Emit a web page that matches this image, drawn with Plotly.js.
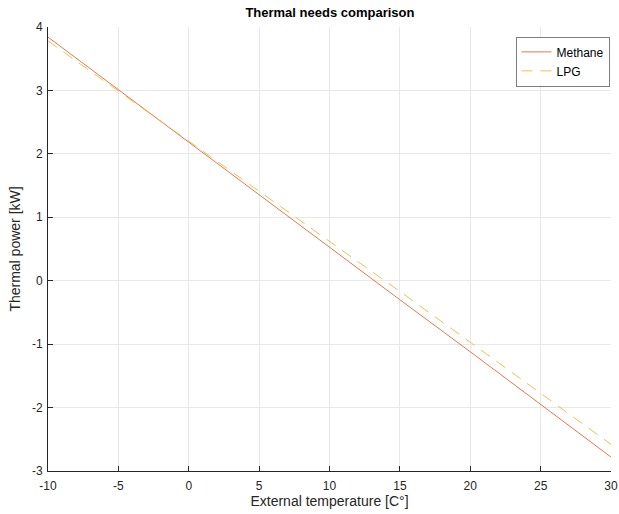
<!DOCTYPE html>
<html>
<head>
<meta charset="utf-8">
<script src="https://cdn.plot.ly/plotly-3.0.1.min.js"></script>
<style>html,body{margin:0;padding:0;background:#fff;}#chart{width:619px;height:514px;}</style>
</head>
<body>
<div id="chart"></div>
<script>
const temperature = [-10, -5, 0, 5, 10, 15, 20, 25, 30];
const methane = [3.84, 3.01, 2.19, 1.36, 0.53, -0.30, -1.12, -1.95, -2.78];
const lpg = [3.78, 2.99, 2.20, 1.41, 0.63, -0.17, -0.97, -1.77, -2.58];
const xTickVals = [-10, -5, 0, 5, 10, 15, 20, 25, 30];
const xTickText = ['-10', '-5', '0', '5', '10', '15', '20', '25', '30'];
const yTickVals = [-3, -2, -1, 0, 1, 2, 3, 4];
const yTickText = ['-3', '-2', '-1', '0', '1', '2', '3', '4'];

const font = 'Liberation Sans, Arial, Helvetica, sans-serif';
const traces = [
  {x: temperature, y: methane, name: 'Methane', mode: 'lines', type: 'scatter',
   line: {color: '#DE6A3A', width: 0.9}},
  {x: temperature, y: lpg, name: 'LPG', mode: 'lines', type: 'scatter',
   line: {color: '#EDB83A', width: 0.9, dash: '11px,8px'}}
];
const axisCommon = {
  showgrid: true, gridcolor: '#e8e8e8', gridwidth: 1,
  showline: true, linecolor: '#262626', linewidth: 1,
  ticks: 'inside', ticklen: 5, tickcolor: '#262626',
  zeroline: false, mirror: false,
  tickfont: {family: font, size: 12, color: '#262626'}
};
const layout = {
  width: 619, height: 514,
  margin: {l: 48, r: 8, t: 27, b: 43},
  paper_bgcolor: '#fff', plot_bgcolor: '#fff',
  title: {text: '<b>Thermal needs comparison</b>', font: {family: font, size: 13, color: '#000'},
          x: 0.533, xanchor: 'center', y: 0.975, yanchor: 'middle'},
  showlegend: true,
  legend: {x: 0.998, xanchor: 'right', y: 0.978, yanchor: 'top',
           bgcolor: '#fff', bordercolor: '#262626', borderwidth: 0.6,
           font: {family: font, size: 12, color: '#000'}, tracegroupgap: 0},
  xaxis: Object.assign({}, axisCommon, {
    range: [-10, 30], tickvals: xTickVals, ticktext: xTickText, ticklabelstandoff: 4,
    title: {text: 'External temperature [C°]', font: {family: font, size: 14, color: '#262626'}, standoff: 3}
  }),
  yaxis: Object.assign({}, axisCommon, {
    range: [-3, 4], tickvals: yTickVals, ticktext: yTickText, ticklabelstandoff: 2,
    title: {text: 'Thermal power [kW]', font: {family: font, size: 14, color: '#262626'}, standoff: 8}
  })
};
Plotly.newPlot('chart', traces, layout, {displayModeBar: false, staticPlot: true});
</script>
</body>
</html>
